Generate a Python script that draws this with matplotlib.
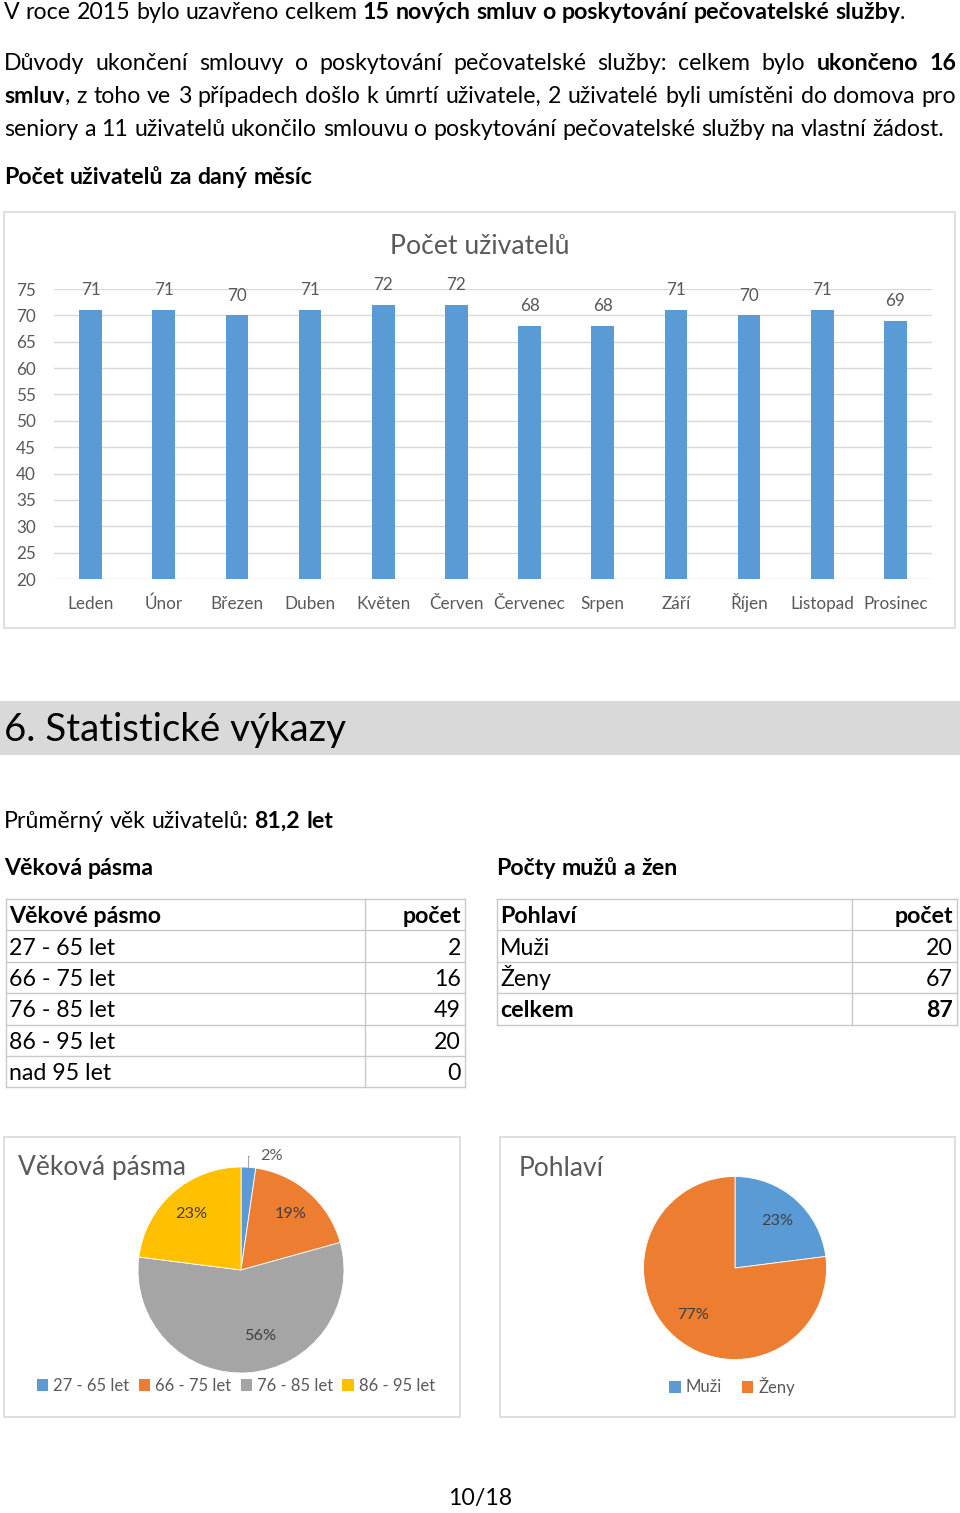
import numpy as np
import matplotlib
matplotlib.use('Agg')
import matplotlib.pyplot as plt
from matplotlib.patches import Rectangle, Patch

FONT = 'Lato'
plt.rcParams['font.family'] = [FONT, 'DejaVu Sans']

# ---------------- data ----------------
months = ['Leden', 'Únor', 'Březen', 'Duben', 'Květen', 'Červen', 'Červenec',
          'Srpen', 'Září', 'Říjen', 'Listopad', 'Prosinec']
users = [71, 71, 70, 71, 72, 72, 68, 68, 71, 70, 71, 69]
y_ticks = [20, 25, 30, 35, 40, 45, 50, 55, 60, 65, 70, 75]

age_bands = ['27 - 65 let', '66 - 75 let', '76 - 85 let', '86 - 95 let', 'nad 95 let']
age_counts = [2, 16, 49, 20, 0]
age_pct_labels = ['2%', '19%', '56%', '23%']

sex_labels = ['Muži', 'Ženy']
sex_counts = [20, 67]
sex_total = 87
sex_pct_labels = ['23%', '77%']

line1 = 'V roce 2015 bylo uzavřeno celkem **15 nových smluv o poskytování pečovatelské služby**.'
para = ['Důvody ukončení smlouvy o poskytování pečovatelské služby: celkem bylo **ukončeno 16**',
        '**smluv**, z toho ve 3 případech došlo k úmrtí uživatele, 2 uživatelé byli umístěni do domova pro',
        'seniory a 11 uživatelů ukončilo smlouvu o poskytování pečovatelské služby na vlastní žádost.']

BLUE, ORANGE, GRAY, YELLOW = '#5b9bd5', '#ed7d31', '#a5a5a5', '#ffc000'
TXT = '#595959'
GRID = '#d9d9d9'

W, H = 960, 1513
fig = plt.figure(figsize=(W / 100, H / 100), dpi=100)
page = fig.add_axes([0, 0, 1, 1])
page.set_xlim(0, W)
page.set_ylim(H, 0)
page.axis('off')
R = fig.canvas.get_renderer()


def tw(s, size, weight='normal'):
    t = page.text(0, 0, s, fontsize=size, fontweight=weight)
    w = t.get_window_extent(R).width
    t.remove()
    return w


def fit(s, target, weight='normal'):
    return 10 * target / tw(s, 10, weight)


def parse(s):
    words, cur, bold, buf = [], [], False, ''
    i = 0
    while i < len(s):
        if s.startswith('**', i):
            if buf:
                cur.append((buf, bold)); buf = ''
            bold = not bold
            i += 2
            continue
        c = s[i]
        if c == ' ':
            if buf:
                cur.append((buf, bold)); buf = ''
            if cur:
                words.append(cur); cur = []
        else:
            buf += c
        i += 1
    if buf:
        cur.append((buf, bold))
    if cur:
        words.append(cur)
    return words


def natural(s, size):
    words = parse(s)
    sp = tw('a a', size) - tw('aa', size)
    tot = sum(tw(seg, size, 'bold' if b else 'normal') for w in words for seg, b in w)
    return tot + sp * (len(words) - 1)


def rich(x, y, s, size, x1=None, color='black'):
    words = parse(s)
    sp = tw('a a', size) - tw('aa', size)
    widths = [[tw(seg, size, 'bold' if b else 'normal') for seg, b in w] for w in words]
    wsum = [sum(ws) for ws in widths]
    gap = sp
    if x1 is not None and len(words) > 1:
        gap = (x1 - x - sum(wsum)) / (len(words) - 1)
    cx = x
    for w, ws in zip(words, widths):
        for (seg, b), segw in zip(w, ws):
            page.text(cx, y, seg, fontsize=size, fontweight='bold' if b else 'normal',
                      va='baseline', ha='left', color=color)
            cx += segw
        cx += gap


def px_axes(x0, y0, x1, y1):
    return fig.add_axes([x0 / W, 1 - y1 / H, (x1 - x0) / W, (y1 - y0) / H])


BODY = 10 * 902 / natural(line1, 10)

# ---------------- top text ----------------
rich(4, 19, line1, BODY)
rich(4, 70, para[0], BODY, x1=956)
rich(4, 103, para[1], BODY, x1=956)
rich(4, 136, para[2], BODY)
rich(4, 184, '**Počet uživatelů za daný měsíc**', BODY)

# ---------------- bar chart ----------------
page.add_patch(Rectangle((4, 212), 951, 416, fill=False, edgecolor=GRID, lw=1.2))
CH = fit('Listopad', 64)
page.text(480, 247, 'Počet uživatelů', ha='center', va='center', color=TXT,
          fontsize=fit('Počet uživatelů', 179))

ax = px_axes(54, 289, 932, 579)
x = np.arange(len(months))
bars = ax.bar(x, users, width=0.31, color=BLUE, zorder=3)
ax.set_xlim(-0.5, len(months) - 0.5)
ax.set_ylim(20, 75)
ax.set_yticks(y_ticks)
ax.set_xticks(x, months)
ax.grid(axis='y', color=GRID, lw=1)
ax.set_axisbelow(True)
for s in ax.spines.values():
    s.set_visible(False)
ax.set_facecolor('none')
ax.tick_params(length=0, colors=TXT, labelsize=CH)
ax.tick_params(axis='y', pad=13)
ax.tick_params(axis='x', pad=21.5)
for lbl in ax.get_xticklabels():
    lbl.set_va('baseline')
ax.bar_label(bars, padding=8.5, fontsize=CH, color=TXT)

# ---------------- section heading ----------------
page.add_patch(Rectangle((0, 701), 960, 54, color='#d9d9d9', lw=0))
page.text(4, 741, '6. Statistické výkazy', fontsize=fit('6. Statistické výkazy', 342),
          va='baseline', ha='left', color='black')

rich(4, 828, 'Průměrný věk uživatelů: **81,2 let**', BODY)
rich(4, 875, '**Věková pásma**', BODY)
rich(496, 875, '**Počty mužů a žen**', BODY)

# ---------------- tables ----------------
TL = '#c8c8c8'


def table(x0, xm, x1, ytop, rh, header, rows, bold_last=False):
    n = len(rows) + 1
    for i in range(n + 1):
        page.plot([x0, x1], [ytop + i * rh, ytop + i * rh], color=TL, lw=1)
    for xx in (x0, xm, x1):
        page.plot([xx, xx], [ytop, ytop + n * rh], color=TL, lw=1)
    allrows = [header] + rows
    for i, (a, b) in enumerate(allrows):
        wt = 'bold' if i == 0 or (bold_last and i == n - 1) else 'normal'
        yb = ytop + i * rh + rh * 0.77
        page.text(x0 + 3, yb, a, fontsize=BODY, fontweight=wt, va='baseline', ha='left')
        page.text(x1 - 4, yb, str(b), fontsize=BODY, fontweight=wt, va='baseline', ha='right')


table(6, 365, 465, 899, 31.4, ('Věkové pásmo', 'počet'),
      [(a, c) for a, c in zip(age_bands, age_counts)])
table(497, 852, 957, 899, 31.4, ('Pohlaví', 'počet'),
      [(a, c) for a, c in zip(sex_labels, sex_counts)] + [('celkem', sex_total)], bold_last=True)

# ---------------- pie charts ----------------
page.add_patch(Rectangle((4, 1137), 456, 280, fill=False, edgecolor=GRID, lw=1.2))
page.add_patch(Rectangle((500, 1137), 455, 280, fill=False, edgecolor=GRID, lw=1.2))
PT = fit('Věková pásma', 168)
page.text(18, 1168, 'Věková pásma', fontsize=PT, color=TXT, va='center', ha='left')
page.text(519, 1168, 'Pohlaví', fontsize=PT, color=TXT, va='center', ha='left')
LS = fit('27 - 65 let', 76)
PL = fit('56%', 32)

# pie 1
cx1, cy1, r1 = 241, 1270, 103
ax1 = px_axes(cx1 - r1, cy1 - r1, cx1 + r1, cy1 + r1)
w1, _ = ax1.pie(age_counts[:4], colors=[BLUE, ORANGE, GRAY, YELLOW], startangle=90,
                counterclock=False, wedgeprops=dict(edgecolor='white', linewidth=0.6))
ax1.set_xlim(-1, 1)
ax1.set_ylim(-1, 1)
for i, (w, lab) in enumerate(zip(w1, age_pct_labels)):
    th = np.deg2rad((w.theta1 + w.theta2) / 2)
    if i == 0:
        ax1.annotate(lab, xy=(np.cos(th), np.sin(th)), xytext=(0.30, 1.11),
                     ha='center', va='center', fontsize=PL, color=TXT, annotation_clip=False,
                     arrowprops=dict(arrowstyle='-', color='#a6a6a6', lw=0.8, shrinkA=6, shrinkB=0,
                                     connectionstyle='angle,angleA=180,angleB=90,rad=0'))
    elif i == 2:
        ax1.text(0.19, -0.64, lab, ha='center', va='center', fontsize=PL, color='#404040')
    else:
        ax1.text(0.73 * np.cos(th), 0.73 * np.sin(th), lab, ha='center', va='center',
                 fontsize=PL, color='#404040')
ax1.legend([Patch(facecolor=c, edgecolor='none') for c in [BLUE, ORANGE, GRAY, YELLOW]],
           age_bands[:4], loc='center', bbox_to_anchor=(236, 1386), bbox_transform=page.transData,
           ncol=4, frameon=False, handlelength=0.7, handleheight=0.7, handletextpad=0.3,
           columnspacing=0.55, fontsize=LS, labelcolor=TXT, borderpad=0)

# pie 2
cx2, cy2, r2 = 735, 1268, 91.5
ax2 = px_axes(cx2 - r2, cy2 - r2, cx2 + r2, cy2 + r2)
w2, _ = ax2.pie(sex_counts, colors=[BLUE, ORANGE], startangle=90, counterclock=False,
                wedgeprops=dict(edgecolor='white', linewidth=0.6))
ax2.set_xlim(-1, 1)
ax2.set_ylim(-1, 1)
for w, lab in zip(w2, sex_pct_labels):
    th = np.deg2rad((w.theta1 + w.theta2) / 2)
    ax2.text(0.69 * np.cos(th), 0.69 * np.sin(th), lab, ha='center', va='center',
             fontsize=PL, color='#404040')
ax2.legend([Patch(facecolor=c, edgecolor='none') for c in [BLUE, ORANGE]],
           sex_labels, loc='center', bbox_to_anchor=(732, 1386), bbox_transform=page.transData,
           ncol=2, frameon=False, handlelength=0.7, handleheight=0.7, handletextpad=0.3,
           columnspacing=1.2, fontsize=LS, labelcolor=TXT, borderpad=0)

page.text(480, 1499, '10/18', ha='center', va='center', fontsize=BODY)

fig.savefig('out.png', dpi=100)
